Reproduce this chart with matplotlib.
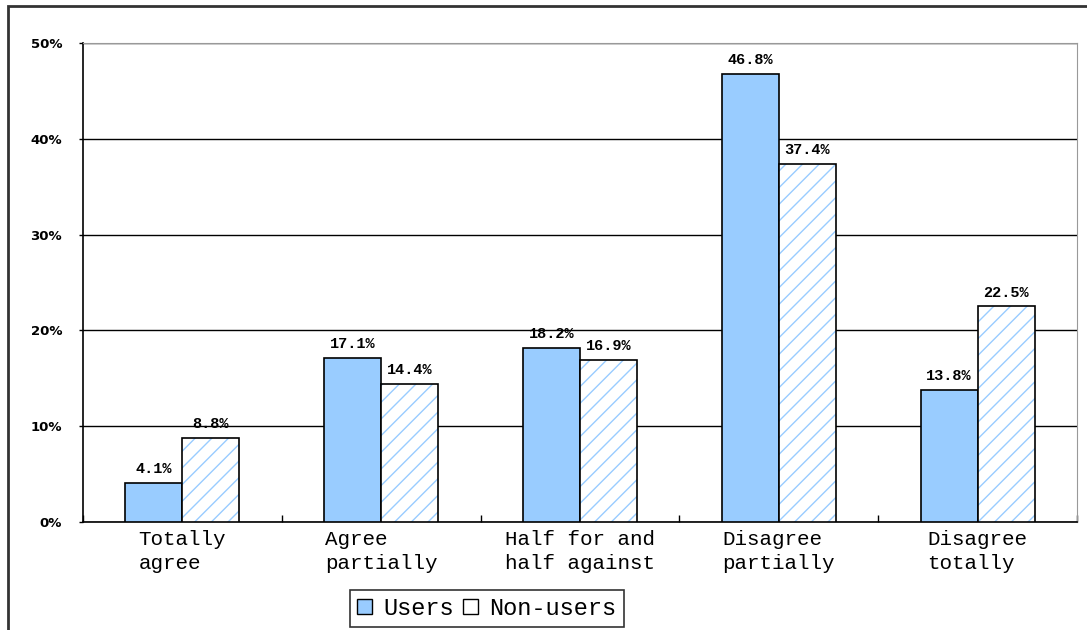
import matplotlib
matplotlib.use("Agg")
import matplotlib.pyplot as plt
import numpy as np
from matplotlib.patches import Rectangle

categories = ["Totally\nagree", "Agree\npartially", "Half for and\nhalf against",
              "Disagree\npartially", "Disagree\ntotally"]
users = [4.1, 17.1, 18.2, 46.8, 13.8]
non_users = [8.8, 14.4, 16.9, 37.4, 22.5]
y_ticks = [0, 10, 20, 30, 40, 50]

blue = "#99CCFF"
mono = "Liberation Mono"

fig = plt.figure(figsize=(10.87, 6.3), dpi=100)
ax = fig.add_axes([83 / 1087, 108 / 630, 994 / 1087, 479 / 630])

x = np.arange(len(categories))
w = 0.287

ax.bar(x - w / 2, users, w, color=blue, edgecolor="black", linewidth=1.2, zorder=3)
ax.bar(x + w / 2, non_users, w, color="white", edgecolor=blue, hatch="//", linewidth=0, zorder=3)
ax.bar(x + w / 2, non_users, w, fill=False, edgecolor="black", linewidth=1.2, zorder=4)

for xi, v in zip(x - w / 2, users):
    ax.text(xi, v + 0.7, f"{v:.1f}%", ha="center", va="bottom", family=mono,
            fontsize=11, fontweight="bold")
for xi, v in zip(x + w / 2, non_users):
    ax.text(xi, v + 0.7, f"{v:.1f}%", ha="center", va="bottom", family=mono,
            fontsize=11, fontweight="bold")

ax.set_xlim(-0.5, len(categories) - 0.5)
ax.set_ylim(0, 50)
ax.set_yticks(y_ticks)
ax.set_yticklabels([f"{t}%" for t in y_ticks], fontsize=9.5, fontweight="bold")
ax.yaxis.grid(True, color="black", linewidth=1.0, zorder=0)
ax.tick_params(axis="y", length=3, width=1, pad=12)

ax.set_xticks(np.arange(-0.5, len(categories) + 0.5, 1))
ax.set_xticklabels([])
ax.tick_params(axis="x", direction="in", length=5, width=1)
ax.set_xticks(x, minor=True)
ax.set_xticklabels(categories, minor=True, family=mono, fontsize=15,
                   multialignment="left", linespacing=1.3)
ax.tick_params(axis="x", which="minor", length=0, pad=6)

for s in ["top", "right"]:
    ax.spines[s].set_color("#999999")
ax.spines["left"].set_linewidth(1.2)
ax.spines["bottom"].set_linewidth(1.2)

handles = [Rectangle((0, 0), 1, 1, facecolor=blue, edgecolor="black"),
           Rectangle((0, 0), 1, 1, facecolor="white", edgecolor="black")]
leg = fig.legend(handles, ["Users", "Non-users"], loc="lower center",
                 bbox_to_anchor=(487 / 1087, 3 / 630), ncol=2, frameon=True,
                 fancybox=False, edgecolor="black", handlelength=0.6,
                 handleheight=0.6, handletextpad=0.5, columnspacing=0.4,
                 borderpad=0.3, borderaxespad=0.0, prop={"family": mono, "size": 17})
leg.get_frame().set_linewidth(1.2)

fig.patches.append(Rectangle((8 / 1087, -0.1), 1.2, 1.1 - 6 / 630,
                             transform=fig.transFigure, fill=False,
                             edgecolor="#333333", linewidth=2))

fig.savefig("out.png", dpi=100)
